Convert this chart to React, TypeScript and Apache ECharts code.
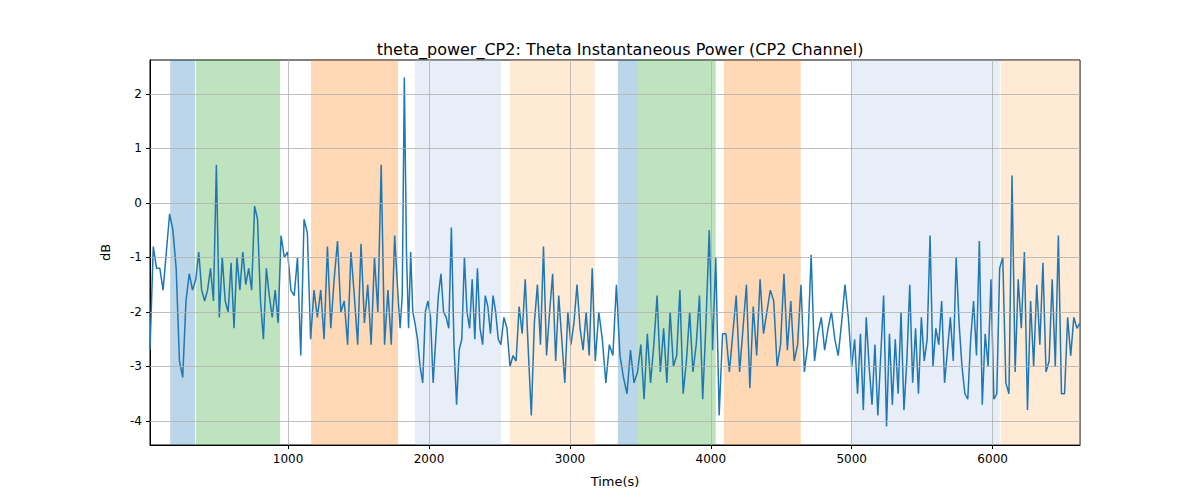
import React, { useEffect, useRef } from "react";
import * as echarts from "echarts";

// segments: [start, end, values]
const seg1 = [-2.7, -0.8, -1.2, -1.2, -1.6, -0.9, -0.2, -0.5, -1.2, -2.9, -3.2, -1.8, -1.3, -1.6];
const seg2 = [-1.4, -0.9, -1.6, -1.8, -1.6, -1.2, -1.8, 0.7, -2.1, -1.0, -1.8, -2.0, -1.1, -2.3, -1.0, -1.6, -0.9, -1.5, -1.2, -1.6, -0.06, -0.3, -1.8, -2.5, -1.2, -1.7, -2.1, -1.6, -2.2];
const seg3 = [-0.6, -1.0, -0.9, -1.6, -1.7, -1.0, -2.8, -0.3, -0.55];
const seg4 = [-2.5, -1.6, -2.1, -1.6, -2.5, -0.8, -2.3, -1.4, -0.7, -2.0, -1.8, -2.6, -0.9, -1.7, -2.6, -0.75, -2.2, -1.5, -2.6, -1.0, -2.0, 0.7, -2.6, -1.6, -2.6, -0.6];
const seg5 = [-1.7, -2.3, -1.7, 2.3, -0.9, -2.3, -0.9, -2.0];
const seg6 = [-2.2, -2.5, -3.0, -3.3, -2.0, -1.8, -2.1, -3.3, -2.5, -1.7, -1.3, -2.0, -2.1, -2.3, -0.45, -2.6, -3.7, -2.7, -2.5, -1.0, -2.0, -2.3, -1.4, -2.5, -1.2, -2.3, -2.6, -1.7, -1.9, -2.4, -1.7, -2.0, -2.5];
const seg7 = [-2.6, -2.1, -2.3, -3.0, -2.8, -2.9, -1.9, -2.4, -1.4, -2.7, -3.9, -2.2, -1.5, -2.6, -0.8, -2.8, -2.0, -1.3, -2.9, -1.7, -2.5, -3.3, -2.0, -2.6, -2.2, -1.5, -2.3, -2.7, -2.0, -2.8, -1.2];
const seg8 = [-2.9, -2.0, -2.5, -3.3, -2.6, -2.8, -1.5, -2.8, -3.2, -3.5, -2.7, -3.3];
const seg9 = [-3.1, -2.6, -3.6, -2.4, -3.3, -2.6, -1.7, -3.1, -2.3, -3.3, -2.0, -3.0, -2.8, -1.6, -3.5, -2.9, -2.0, -3.1, -2.6, -1.7, -3.6, -2.2, -0.5, -2.7];
const seg10 = [-1.0, -3.9, -2.4, -2.4, -3.1, -2.4, -1.7, -3.1, -2.3, -1.5, -3.4, -1.9, -2.8, -1.4, -2.4, -2.0, -1.6, -1.8, -3.0, -2.6, -1.3, -2.7, -1.8, -2.9, -2.6];
const seg11 = [-1.5, -3.1, -2.6, -0.95, -2.9, -2.4, -2.1, -2.7, -2.3, -2.0, -2.5, -2.8, -2.2, -1.5, -2.1];
const seg12 = [-3.0, -2.5, -3.5, -2.4, -3.8, -2.1, -3.0, -3.7, -2.6, -3.9, -2.8, -1.7, -4.1, -2.4, -3.7, -2.5, -3.5, -2.0, -3.8, -2.9, -1.5, -3.3, -2.3, -3.5, -2.1, -2.9, -2.5, -0.6, -3.0, -2.3, -2.6, -1.8, -3.3, -2.7, -2.1, -2.9, -1.0, -2.2, -3.0, -3.5, -3.6, -2.5, -1.8, -2.8, -0.7, -3.7, -2.4, -3.0, -1.4, -3.6, -3.5];
const seg13 = [-1.2, -1.0, -3.3, -3.5, 0.5, -3.1, -1.4, -2.3, -0.9, -3.8, -1.8, -3.0, -1.5, -2.6, -1.1, -3.1, -2.9, -1.4, -3.0, -0.6, -3.5, -3.5, -2.1, -2.8, -2.1, -2.3];

const segBounds = [20, 345, 950, 1160, 1780, 1900, 2510, 3180, 3480, 4035, 4640, 5000, 6050, 6620];
const segments = [seg1, seg2, seg3, seg4, seg5, seg6, seg7, seg8, seg9, seg10, seg11, seg12, seg13];

const regionStarts = [163, 347, 1163, 1901, 2574, 3340, 3482, 4092, 4993, 6057];
const regionEnds = [340, 943, 1780, 2511, 3177, 3482, 4035, 4638, 6050, 6620];
const regionColors = [
  "rgba(31,119,180,0.3)", "rgba(44,160,44,0.3)", "rgba(255,127,14,0.3)",
  "rgba(174,199,232,0.3)", "rgba(255,187,120,0.3)",
  "rgba(31,119,180,0.3)", "rgba(44,160,44,0.3)", "rgba(255,127,14,0.3)",
  "rgba(174,199,232,0.3)", "rgba(255,187,120,0.3)",
];
const xTicks = [1000, 2000, 3000, 4000, 5000, 6000];
const yTicks = [-4, -3, -2, -1, 0, 1, 2];

const App: React.FC = () => {
  const ref = useRef<HTMLDivElement>(null);
  useEffect(() => {
    document.body.style.margin = "0";
    const chart = echarts.init(ref.current as HTMLDivElement, null, { renderer: "svg" });
    const points: number[][] = [];
    segments.forEach((vals, i) => {
      const a = segBounds[i];
      const b = segBounds[i + 1];
      vals.forEach((v, j) => points.push([a + ((b - a) * j) / vals.length, v]));
    });
    points.push([6620, -2.2]);
    const font = "DejaVu Sans";
    chart.setOption({
      animation: false,
      textStyle: { fontFamily: font },
      title: {
        text: "theta_power_CP2: Theta Instantaneous Power (CP2 Channel)",
        left: 615, top: 36, textAlign: "center",
        textStyle: { fontSize: 16, fontWeight: "normal", color: "#000", fontFamily: font },
      },
      grid: { left: 150, right: 120, top: 60, bottom: 55, show: true, borderColor: "#000", borderWidth: 1 },
      xAxis: {
        type: "value", min: 20, max: 6620,
        name: "Time(s)", nameLocation: "middle", nameGap: 30,
        nameTextStyle: { fontSize: 13, color: "#000" },
        axisLine: { onZero: false, lineStyle: { color: "#000" } },
        axisTick: { customValues: xTicks, length: 4, lineStyle: { color: "#000" } },
        axisLabel: { customValues: xTicks, color: "#000", fontSize: 12, formatter: (v: number) => String(v) },
        splitLine: { show: false },
      },
      yAxis: {
        type: "value", min: -4.44, max: 2.62,
        name: "dB", nameLocation: "middle", nameGap: 38,
        nameTextStyle: { fontSize: 13, color: "#000" },
        axisLine: { show: true, lineStyle: { color: "#000" } },
        axisTick: { customValues: yTicks, length: 4, lineStyle: { color: "#000" } },
        axisLabel: { customValues: yTicks, color: "#000", fontSize: 12 },
        splitLine: { show: false },
      },
      series: [
        {
          type: "line", data: [], silent: true,
          markArea: {
            silent: true,
            data: regionStarts.map((s, i) => [
              { xAxis: s, itemStyle: { color: regionColors[i] } },
              { xAxis: regionEnds[i] },
            ]),
          },
        },
        {
          type: "line", data: [], silent: true,
          markLine: {
            silent: true, symbol: "none", label: { show: false },
            lineStyle: { color: "#b0b0b0", type: "solid", width: 0.8 },
            data: [...xTicks.map((x) => ({ xAxis: x })), ...yTicks.map((y) => ({ yAxis: y }))],
          },
        },
        {
          type: "line", data: points, showSymbol: false,
          lineStyle: { color: "#1f77b4", width: 1.5 },
        },
      ],
    });
    return () => chart.dispose();
  }, []);
  return <div ref={ref} style={{ width: 1200, height: 500 }} />;
};

export default App;
